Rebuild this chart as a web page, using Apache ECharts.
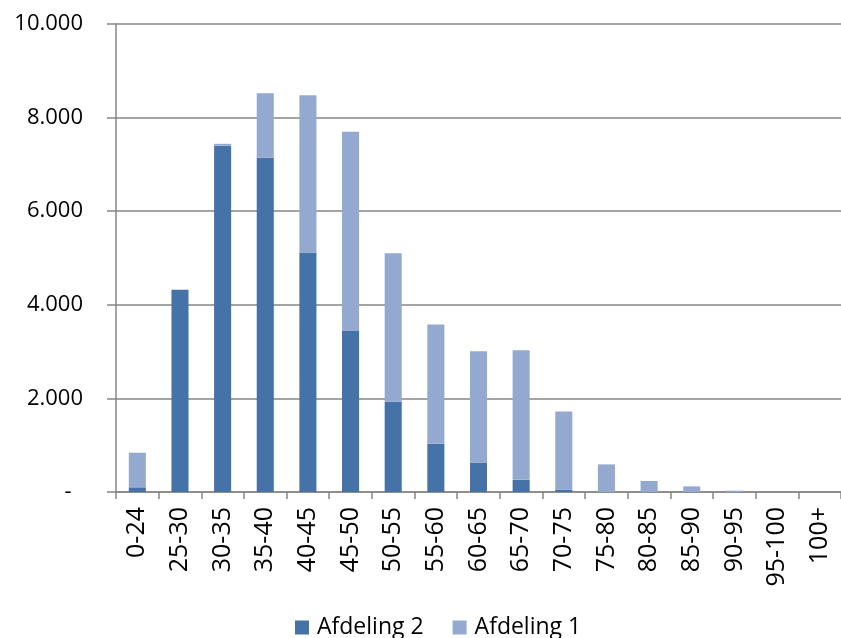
<!DOCTYPE html>
<html>
<head>
<meta charset="utf-8">
<script src="https://cdn.jsdelivr.net/npm/echarts@6/dist/echarts.min.js"></script>
<style>
  html, body { margin: 0; padding: 0; background: #fff; }
  #chart { width: 841px; height: 638px; }
</style>
</head>
<body>
<div id="chart"></div>
<script>
// Age bands along the x axis
const ageBands = ['0-24', '25-30', '30-35', '35-40', '40-45', '45-50', '50-55', '55-60',
  '60-65', '65-70', '70-75', '75-80', '80-85', '85-90', '90-95', '95-100', '100+'];

// Headcount per age band, stacked: Afdeling 2 at the bottom, Afdeling 1 on top
const afdeling2 = [100, 4320, 7400, 7140, 5120, 3440, 1930, 1030, 630, 260, 50, 0, 0, 0, 0, 0, 0];
const afdeling1 = [740, 0, 40, 1380, 3360, 4260, 3170, 2550, 2380, 2770, 1670, 590, 235, 120, 28, 0, 0];

// Value axis ticks
const yTicks = [0, 2000, 4000, 6000, 8000, 10000];

const FONT = '"Open Sans", "DejaVu Sans", sans-serif';
const GRAY = '#868686';

function formatThousands(v) {
  if (v === 0) return '-  ';
  return String(v).replace(/\B(?=(\d{3})+(?!\d))/g, '.');
}

const chart = echarts.init(document.getElementById('chart'), null, { renderer: 'canvas' });

chart.setOption({
  animation: false,
  backgroundColor: '#ffffff',
  grid: { left: 116, top: 24, right: 0, bottom: 146, containLabel: false },
  legend: {
    data: ['Afdeling 2', 'Afdeling 1'],
    bottom: -6,
    left: 290,
    icon: 'rect',
    itemWidth: 14,
    itemHeight: 14,
    itemGap: 29,
    textStyle: { fontFamily: FONT, fontSize: 23, color: '#000', padding: [0, 0, 0, 3] }
  },
  xAxis: {
    type: 'category',
    data: ageBands,
    axisLine: { lineStyle: { color: GRAY, width: 1.5 } },
    axisTick: { show: true, length: 7, lineStyle: { color: GRAY, width: 1.5 } },
    axisLabel: {
      rotate: 90,
      margin: 15,
      interval: 0,
      fontFamily: FONT,
      fontSize: 25,
      color: '#000'
    }
  },
  yAxis: {
    type: 'value',
    min: yTicks[0],
    max: yTicks[yTicks.length - 1],
    interval: yTicks[1] - yTicks[0],
    axisLine: { show: true, lineStyle: { color: GRAY, width: 1.5 } },
    axisTick: { show: true, length: 9, lineStyle: { color: GRAY, width: 1.5 } },
    splitLine: { lineStyle: { color: GRAY, width: 1.5 } },
    axisLabel: {
      margin: 33,
      fontFamily: FONT,
      fontSize: 22,
      color: '#000',
      formatter: formatThousands
    }
  },
  series: [
    {
      name: 'Afdeling 2',
      type: 'bar',
      stack: 'total',
      barWidth: '40%',
      data: afdeling2,
      itemStyle: { color: '#4572A7' }
    },
    {
      name: 'Afdeling 1',
      type: 'bar',
      stack: 'total',
      barWidth: '40%',
      data: afdeling1,
      itemStyle: { color: '#94A9D0' }
    }
  ]
});
</script>
</body>
</html>
